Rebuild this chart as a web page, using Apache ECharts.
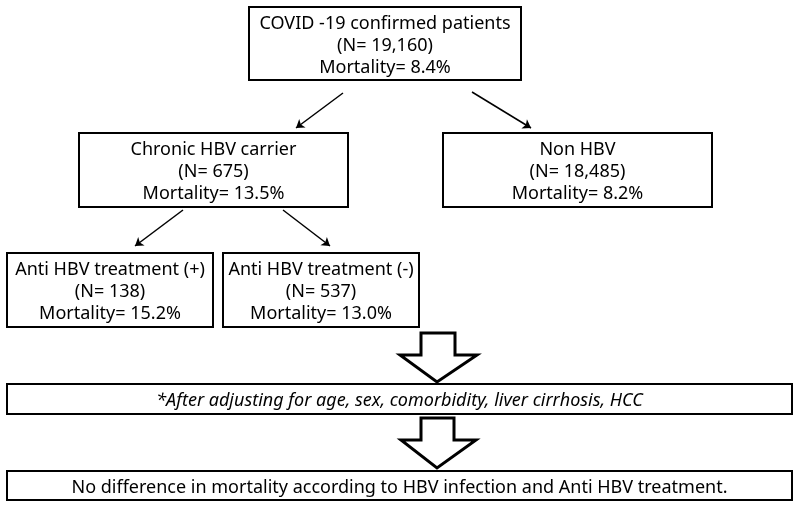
<!DOCTYPE html>
<html>
<head>
<meta charset="utf-8">
<script src="https://cdn.jsdelivr.net/npm/echarts@6/dist/echarts.min.js"></script>
<style>
  html, body { margin: 0; padding: 0; background: #fff; }
  #chart { width: 799px; height: 507px; }
</style>
</head>
<body>
<div id="chart"></div>
<script>
// box texts
const boxTexts = [
  'COVID -19 confirmed patients\n(N= 19,160)\nMortality= 8.4%',
  'Chronic HBV carrier\n(N= 675)\nMortality= 13.5%',
  'Non HBV\n(N= 18,485)\nMortality= 8.2%',
  'Anti HBV treatment (+)\n(N= 138)\nMortality= 15.2%',
  'Anti HBV treatment (-)\n(N= 537)\nMortality= 13.0%',
  '*After adjusting for age, sex, comorbidity, liver cirrhosis, HCC',
  'No difference in mortality according to HBV infection and Anti HBV treatment.'
]
const boxItalic = [false, false, false, false, false, true, false]
// box corners in diagram units [x0, y0, x1, y1]
const boxCorners = [
  [249, 7, 521, 80],
  [79, 133, 348, 207],
  [443, 133, 712, 207],
  [7, 253, 213, 327],
  [223, 253, 419, 327],
  [7, 384, 792, 414],
  [7, 471, 792, 500]
]
// thin arrows [from, to]
const arrowLinks = [
  [[343, 93], [296, 128]],
  [[472, 92], [531, 128]],
  [[183, 210], [135, 246]],
  [[283, 210], [330, 246]]
]
// block arrows [shaftLeft, shaftRight, top, headY, headLeft, headRight, tipX, tipY]
const blockArrows = [
  [421, 455, 333, 355, 400, 477, 437, 382],
  [421, 454, 418, 440, 401, 476, 437, 468]
]

const FONT = '"Noto Sans", "Open Sans", sans-serif'

let myChart = echarts.init(document.getElementById('chart'))
myChart.setOption({
  animation: false,
  grid: { left: 0, right: 0, top: 0, bottom: 0 },
  xAxis: { type: 'value', min: 0, max: 799, show: false },
  yAxis: { type: 'value', min: 0, max: 507, inverse: true, show: false },
  series: [
    {
      // 方框
      type: 'custom',
      coordinateSystem: 'cartesian2d',
      data: boxCorners.map((b, i) => [b[0], b[1], b[2], b[3], i]),
      renderItem: function (params, api) {
        let p0 = api.coord([api.value(0), api.value(1)])
        let p1 = api.coord([api.value(2), api.value(3)])
        let i = api.value(4)
        return {
          type: 'group',
          children: [
            {
              type: 'rect',
              shape: { x: p0[0], y: p0[1], width: p1[0] - p0[0], height: p1[1] - p0[1] },
              style: { fill: '#fff', stroke: '#000', lineWidth: 2 }
            },
            {
              type: 'text',
              style: {
                text: boxTexts[i],
                x: (p0[0] + p1[0]) / 2,
                y: (p0[1] + p1[1]) / 2 + 2,
                align: 'center',
                verticalAlign: 'middle',
                fontFamily: FONT,
                fontSize: 18,
                fontStyle: boxItalic[i] ? 'italic' : 'normal',
                lineHeight: 22,
                fill: '#000'
              }
            }
          ]
        }
      }
    },
    {
      // 箭头
      type: 'lines',
      coordinateSystem: 'cartesian2d',
      polyline: false,
      symbol: ['none', 'arrow'],
      symbolSize: 8,
      lineStyle: { color: '#000', width: 1.5, opacity: 1 },
      data: arrowLinks.map(l => ({ coords: l }))
    },
    {
      // 空心大箭头
      type: 'custom',
      coordinateSystem: 'cartesian2d',
      data: blockArrows,
      renderItem: function (params, api) {
        let v = []
        for (let k = 0; k < 8; k++) v.push(api.value(k))
        let pts = [
          [v[0], v[2]], [v[1], v[2]], [v[1], v[3]], [v[5], v[3]],
          [v[6], v[7]], [v[4], v[3]], [v[0], v[3]]
        ].map(p => api.coord(p))
        return {
          type: 'polygon',
          shape: { points: pts },
          style: { fill: '#fff', stroke: '#000', lineWidth: 3, lineJoin: 'miter' }
        }
      }
    }
  ]
})
</script>
</body>
</html>
